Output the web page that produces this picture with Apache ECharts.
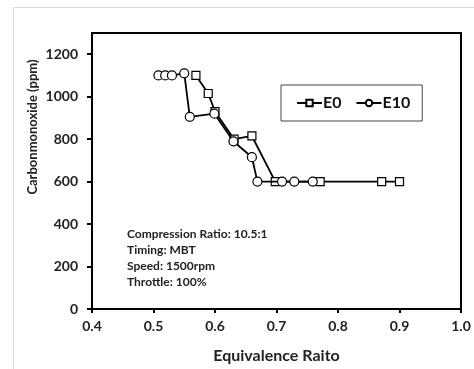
<!DOCTYPE html>
<html>
<head>
  <meta charset="UTF-8">
  <title>CO vs equivalence ratio</title>
  <script src="https://cdn.jsdelivr.net/npm/echarts@6/dist/echarts.min.js"></script>
  <style>
    html, body { margin: 0; padding: 0; background: #fff; }
    #main { width: 474px; height: 369px; }
  </style>
</head>
<body>
<div id="main"></div>
<script>
  // values
  var e0X = [0.569, 0.589, 0.600, 0.631, 0.660, 0.698, 0.771, 0.871, 0.900];
  var e0Y = [1100, 1015, 930, 800, 815, 600, 600, 600, 600];
  var e10X = [0.508, 0.519, 0.530, 0.550, 0.559, 0.599, 0.630, 0.660, 0.669, 0.709, 0.729, 0.759];
  var e10Y = [1100, 1100, 1100, 1110, 905, 920, 790, 715, 600, 600, 600, 600];
  var notes = ['Compression Ratio: 10.5:1', 'Timing: MBT', 'Speed: 1500rpm', 'Throttle: 100%'];

  function pairs(xs, ys) {
    return xs.map(function (x, i) { return [x, ys[i]]; });
  }

  var font = 'Lato, "Open Sans", sans-serif';

  echarts.init($('#main')).setOption({
    animation: false,
    grid: {
      left: 92, right: 13, top: 33, bottom: 57,
      show: true, borderColor: '#000', borderWidth: 2
    },
    legend: {
      left: 281, top: 85,
      padding: [10, 12, 10, 15],
      itemGap: 14,
      itemWidth: 25, itemHeight: 8,
      borderColor: '#444', borderWidth: 1,
      textStyle: { fontFamily: font, fontWeight: 'bold', fontSize: 16, color: '#111', padding: [0, 0, 0, -4] },
      data: ['E0', 'E10']
    },
    xAxis: {
      type: 'value', min: 0.4, max: 1.0, interval: 0.1,
      name: 'Equivalence Raito', nameLocation: 'middle', nameGap: 39,
      nameTextStyle: { fontFamily: font, fontWeight: 'bold', fontSize: 16, color: '#222' },
      axisLine: { lineStyle: { color: '#000', width: 2 } },
      axisTick: { show: true, length: 4, lineStyle: { color: '#000', width: 2 } },
      axisLabel: {
        margin: 10, fontFamily: font, fontWeight: 'bold', fontSize: 14, color: '#222',
        formatter: function (v) { return v.toFixed(1); }
      },
      splitLine: { show: false }
    },
    yAxis: {
      type: 'value', min: 0, max: 1300, interval: 200,
      axisLine: { show: true, lineStyle: { color: '#000', width: 2 } },
      axisTick: { show: true, length: 5, lineStyle: { color: '#000', width: 2 } },
      axisLabel: {
        margin: 14, fontFamily: font, fontWeight: 'bold', fontSize: 14, color: '#222',
        showMaxLabel: false,
        formatter: function (v) { return v > 1200 ? '' : v; }
      },
      splitLine: { show: false }
    },
    graphic: [
      { type: 'line', shape: { x1: 13.5, y1: 7.5, x2: 474, y2: 7.5 }, style: { stroke: '#d9d9d9', lineWidth: 1 } },
      { type: 'line', shape: { x1: 13.5, y1: 7.5, x2: 13.5, y2: 369 }, style: { stroke: '#d9d9d9', lineWidth: 1 } },
      {
        type: 'text', x: 33, y: 127, rotation: Math.PI / 2,
        style: {
          text: 'Carbonmonoxide (ppm)', fill: '#222',
          font: 'bold 13px ' + font, textAlign: 'center', textVerticalAlign: 'middle'
        }
      },
      {
        type: 'text', left: 127, top: 226,
        style: {
          text: notes.join('\n'), fill: '#222', lineHeight: 16,
          font: 'bold 12px ' + font
        }
      }
    ],
    series: [
      {
        name: 'E0', type: 'line',
        data: pairs(e0X, e0Y),
        symbol: 'rect', symbolSize: 8,
        itemStyle: { color: '#fff', borderColor: '#000', borderWidth: 1.2 },
        lineStyle: { color: '#000', width: 1.8 },
        z: 2
      },
      {
        name: 'E10', type: 'line',
        data: pairs(e10X, e10Y),
        symbol: 'circle', symbolSize: 9,
        itemStyle: { color: '#fff', borderColor: '#000', borderWidth: 1.2 },
        lineStyle: { color: '#000', width: 1.8 },
        z: 3
      }
    ]
  });

  function $(dom) {
    return document.querySelector(dom);
  }
</script>
</body>
</html>
